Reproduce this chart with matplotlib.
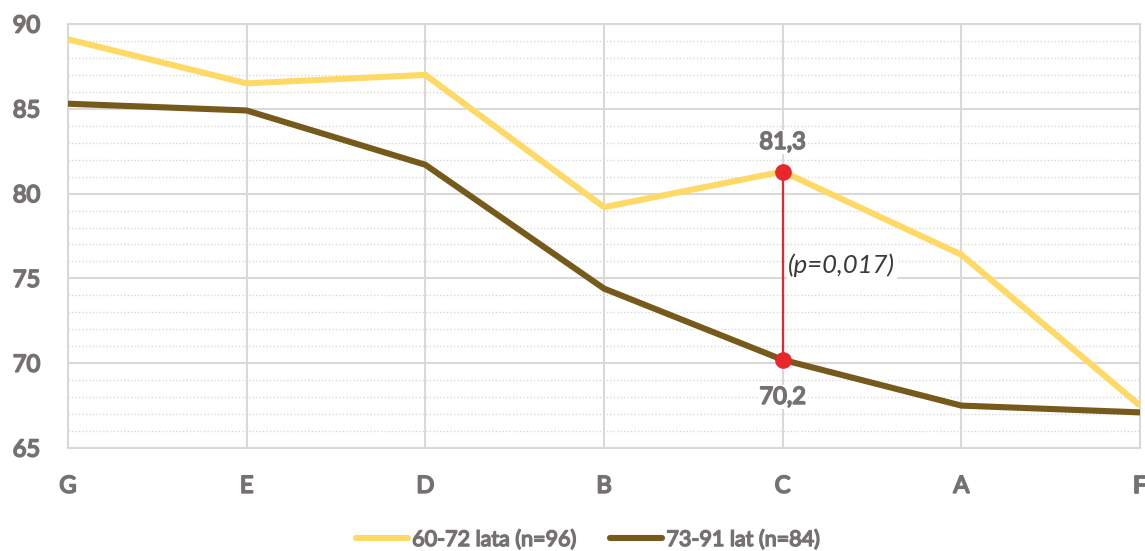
import matplotlib.pyplot as plt
import matplotlib.patheffects as pe
from matplotlib.ticker import MultipleLocator

plt.rcParams['font.family'] = ['Lato', 'DejaVu Sans']

categories = ['G', 'E', 'D', 'B', 'C', 'A', 'F']
group_young = [89.1, 86.5, 87.0, 79.2, 81.3, 76.4, 67.5]
group_old = [85.3, 84.9, 81.7, 74.4, 70.2, 67.5, 67.1]
label_young = '60-72 lata (n=96)'
label_old = '73-91 lat (n=84)'
p_text = '(p=0,017)'
highlight = 'C'

yellow = '#FFD966'
brown = '#755A1C'
red = '#E8262B'
gray = '#767171'
grid_col = '#D9D9D9'

# thicken the strokes of the regular face so labels read as bold
heavy = [pe.withStroke(linewidth=1.3, foreground=gray)]

fig = plt.figure(figsize=(11.45, 5.51), dpi=100)
ax = fig.add_axes([68 / 1145, 1 - 448 / 551, (1140 - 68) / 1145, (448 - 24) / 551])

x = range(len(categories))
ax.plot(x, group_young, color=yellow, lw=4.4, solid_capstyle='butt', label=label_young, zorder=3)
ax.plot(x, group_old, color=brown, lw=4.4, solid_capstyle='butt', label=label_old, zorder=3)

# significance marker between the two groups
i = categories.index(highlight)
hi, lo = group_young[i], group_old[i]
ax.plot([i, i], [lo, hi], color=red, lw=1.6, zorder=4)
ax.plot([i, i], [lo, hi], 'o', color=red, ms=11, zorder=5)

def fmt(v):
    return f'{v:.1f}'.replace('.', ',')

box = dict(facecolor='white', edgecolor='none', pad=1)
ax.annotate(fmt(hi), (i, hi), xytext=(0, 21), textcoords='offset points', ha='center', va='center',
            fontsize=17, color=gray, bbox=box, zorder=6, path_effects=heavy)
ax.annotate(fmt(lo), (i, lo), xytext=(0, -27), textcoords='offset points', ha='center', va='center',
            fontsize=17, color=gray, bbox=box, zorder=6, path_effects=heavy)
ax.annotate(p_text, (i, (hi + lo) / 2), xytext=(4, 0), textcoords='offset points',
            ha='left', va='center', fontsize=18.5, style='italic', color='#3A3A3A', bbox=box, zorder=6)

ax.set_xlim(0, len(categories) - 1)
ax.set_ylim(65, 90)
ax.set_xticks(list(x))
ax.set_xticklabels(categories)
ax.yaxis.set_major_locator(MultipleLocator(5))
ax.yaxis.set_minor_locator(MultipleLocator(1))

ax.grid(True, which='major', color=grid_col, lw=1.5, zorder=0)
ax.grid(True, which='minor', axis='y', color=grid_col, lw=1.0, ls=(0, (1, 1.5)), zorder=0)
ax.set_axisbelow(True)
for s in ax.spines.values():
    s.set_color(grid_col)
    s.set_linewidth(1.5)

ax.tick_params(which='both', length=0)
ax.tick_params(axis='y', pad=20, labelsize=17, labelcolor=gray)
ax.tick_params(axis='x', pad=20, labelsize=17, labelcolor=gray)
for t in ax.get_xticklabels() + ax.get_yticklabels():
    t.set_path_effects(heavy)

leg = fig.legend(loc='center', bbox_to_anchor=(588 / 1145, 1 - 540 / 551), ncol=2, frameon=False,
                 fontsize=15.5, handlelength=2.4, handletextpad=0.2, columnspacing=1.6)
for t in leg.get_texts():
    t.set_color(gray)
    t.set_path_effects([pe.withStroke(linewidth=1.1, foreground=gray)])
for h in leg.get_lines():
    h.set_solid_capstyle('round')

fig.savefig('out.png', dpi=100)
